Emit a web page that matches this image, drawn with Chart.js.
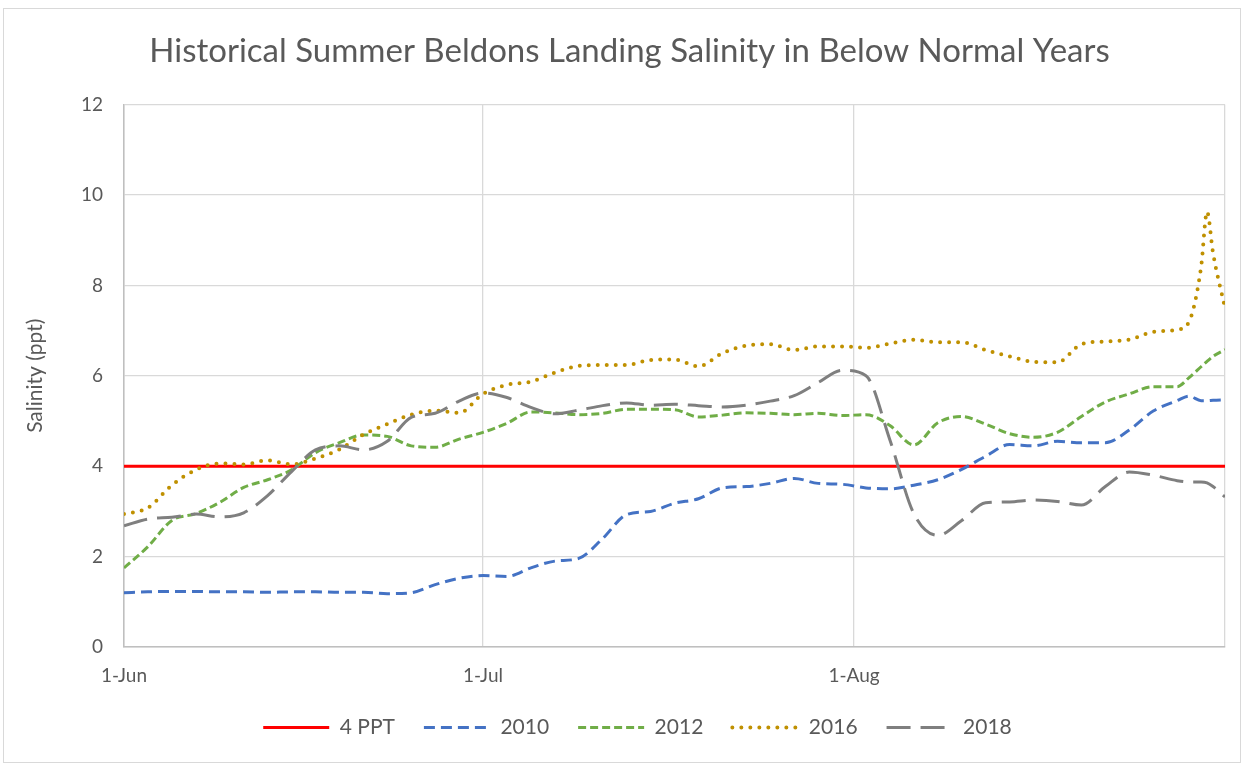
<!DOCTYPE html>
<html>
<head>
<meta charset="utf-8">
<title>Historical Summer Beldons Landing Salinity</title>
<script src="https://cdn.jsdelivr.net/npm/chart.js@4.4.0/dist/chart.umd.min.js"></script>
<style>
  html, body { margin: 0; padding: 0; background: #ffffff; }
  #wrap { position: relative; width: 1244px; height: 767px; }
  /* 外枠(Excelのグラフエリア枠線) */
  #frame { position: absolute; left: 3px; top: 8px; right: 3px; bottom: 4px;
           border: 1px solid #d9d9d9; pointer-events: none; }
</style>
</head>
<body>
<div id="wrap"><canvas id="chart"></canvas><div id="frame"></div></div>
<script>
// 横軸は 6/1 からの日数(1-Jul = 30, 1-Aug = 61, 9/1 = 92)
const xTickDays = [0, 30, 61, 92];
const xTickLabels = ['1-Jun', '1-Jul', '1-Aug', ''];

// 基準線 4 PPT
const thresholdDays = [0, 92];
const thresholdValues = [4, 4];

const days = [0, 2, 4, 6, 8, 10, 12, 14, 16, 18, 20, 22, 24, 26, 28, 30, 32, 34, 36, 38,
  40, 42, 44, 46, 48, 50, 52, 54, 56, 58, 60, 62, 64, 66, 68, 70, 72, 74, 76, 78,
  80, 82, 84, 86, 88, 89, 90, 90.5, 91, 92];

const sal2010 = [1.2, 1.22, 1.23, 1.23, 1.22, 1.22, 1.21, 1.22, 1.22, 1.21, 1.21, 1.18, 1.2, 1.38, 1.52, 1.58, 1.56, 1.75, 1.9, 1.96,
  2.4, 2.93, 3.0, 3.18, 3.28, 3.52, 3.55, 3.62, 3.73, 3.62, 3.6, 3.52, 3.5, 3.58, 3.7, 3.93, 4.22, 4.48, 4.45, 4.55,
  4.52, 4.52, 4.8, 5.22, 5.45, 5.55, 5.45, 5.45, 5.46, 5.47];

const sal2012 = [1.75, 2.22, 2.8, 2.95, 3.2, 3.53, 3.7, 3.92, 4.3, 4.52, 4.69, 4.66, 4.45, 4.42, 4.6, 4.75, 4.95, 5.2, 5.18, 5.14,
  5.17, 5.26, 5.26, 5.25, 5.09, 5.13, 5.18, 5.17, 5.14, 5.17, 5.12, 5.14, 4.9, 4.47, 4.96, 5.1, 4.93, 4.72, 4.64, 4.75,
  5.1, 5.42, 5.6, 5.76, 5.76, 5.96, 6.2, 6.32, 6.43, 6.58];

const sal2016 = [2.94, 3.08, 3.58, 3.92, 4.06, 4.04, 4.13, 4.04, 4.17, 4.37, 4.7, 4.93, 5.14, 5.23, 5.18, 5.6, 5.8, 5.87, 6.07, 6.22,
  6.24, 6.24, 6.35, 6.36, 6.21, 6.5, 6.67, 6.7, 6.57, 6.65, 6.65, 6.62, 6.71, 6.8, 6.74, 6.74, 6.57, 6.43, 6.31, 6.3,
  6.7, 6.76, 6.8, 6.97, 7.02, 7.2, 8.4, 9.63, 8.72, 7.5];

const sal2018 = [2.68, 2.83, 2.87, 2.94, 2.88, 2.97, 3.35, 3.88, 4.36, 4.45, 4.36, 4.55, 5.08, 5.17, 5.44, 5.62, 5.52, 5.3, 5.16, 5.24,
  5.34, 5.4, 5.35, 5.37, 5.34, 5.31, 5.35, 5.44, 5.56, 5.85, 6.12, 6.0, 4.58, 2.95, 2.47, 2.8, 3.19, 3.21, 3.25, 3.22,
  3.14, 3.55, 3.87, 3.8, 3.68, 3.65, 3.65, 3.63, 3.55, 3.32];

const TEXT = '#595959';
const GRID = '#d9d9d9';
const AXIS = '#bfbfbf';
const FONT = 'Lato';

// x配列とy配列を {x, y} の点列にまとめる
function pts(xs, ys) { return xs.map((x, i) => ({ x, y: ys[i] })); }

// 系列を作る(orderが小さいほど手前に描かれる。Excelと同じく後の系列を上に)
function series(label, xs, ys, color, dash, order, extra = {}) {
  return Object.assign({
    label,
    data: pts(xs, ys),
    borderColor: color,
    backgroundColor: color,
    borderWidth: 3,
    borderDash: dash,
    borderCapStyle: 'butt',
    pointRadius: 0,
    fill: false,
    cubicInterpolationMode: 'monotone',
    order
  }, extra);
}

const datasets = [
  series('4 PPT', thresholdDays, thresholdValues, '#ff0000', [], 5, { tension: 0, cubicInterpolationMode: 'default' }),
  series('2010', days, sal2010, '#4472c4', [11, 6], 4),
  series('2012', days, sal2012, '#70ad47', [8, 4], 3),
  series('2016', days, sal2016, '#bf9000', [0, 9], 2, { borderCapStyle: 'round', borderWidth: 4 }),
  series('2018', days, sal2018, '#7f7f7f', [24, 10], 1)
];

// 凡例の線見本は点スタイルではなく系列の線種(破線・点線)で描く
function legendLabels(chart) {
  const items = Chart.defaults.plugins.legend.labels.generateLabels(chart);
  items.forEach((it) => {
    const ds = chart.data.datasets[it.datasetIndex];
    it.strokeStyle = ds.borderColor;
    it.lineWidth = ds.borderWidth;
    it.lineDash = ds.borderDash;
    it.lineCap = ds.borderCapStyle;
  });
  return items;
}

// タイトルと凡例を少し右へ寄せる(元図は描画域の中央に寄っている)
const blockShift = {
  id: 'blockShift',
  afterLayout(chart) {
    const l = chart.legend;
    if (l) { l.left += 20; l.right += 20; }
    const t = chart.titleBlock;
    if (t) { t.left += 12; t.right += 12; }
  }
};

new Chart(document.getElementById('chart').getContext('2d'), {
  type: 'line',
  data: { datasets },
  plugins: [blockShift],
  options: {
    responsive: true,
    maintainAspectRatio: false,
    animation: false,
    events: [],
    layout: { padding: { left: 10, right: 19, top: 8, bottom: 19 } },
    scales: {
      x: {
        type: 'linear',
        min: 0,
        max: 92,
        afterBuildTicks: (s) => { s.ticks = xTickDays.map((v) => ({ value: v })); },
        afterFit: (s) => { s.height = 41; },
        ticks: {
          callback: (v, i) => xTickLabels[i],
          color: TEXT, font: { family: FONT, size: 19 },
          padding: 17, maxRotation: 0, autoSkip: false
        },
        grid: { color: GRID, lineWidth: 1.3, drawTicks: false },
        border: { color: AXIS, width: 1.5 }
      },
      y: {
        min: 0,
        max: 12,
        afterFit: (s) => { s.width = 114; },
        ticks: { stepSize: 2, color: TEXT, font: { family: FONT, size: 19 }, padding: 21 },
        grid: { color: GRID, lineWidth: 1.3, drawTicks: false },
        border: { color: AXIS, width: 1.5 },
        title: {
          display: true, text: 'Salinity (ppt)', color: TEXT,
          font: { family: FONT, size: 21 }, padding: { top: 13, bottom: 0 }
        }
      }
    },
    plugins: {
      title: {
        display: true,
        text: 'Historical Summer Beldons Landing Salinity in Below Normal Years',
        color: TEXT,
        font: { family: FONT, size: 33, weight: 'normal' },
        padding: { top: 24, bottom: 33 }
      },
      legend: {
        position: 'bottom',
        labels: {
          usePointStyle: true,
          pointStyle: 'line',
          pointStyleWidth: 66,
          color: TEXT,
          font: { family: FONT, size: 21 },
          padding: 29,
          sort: (a, b) => a.datasetIndex - b.datasetIndex,
          generateLabels: legendLabels
        }
      },
      tooltip: { enabled: false }
    }
  }
});
</script>
</body>
</html>
